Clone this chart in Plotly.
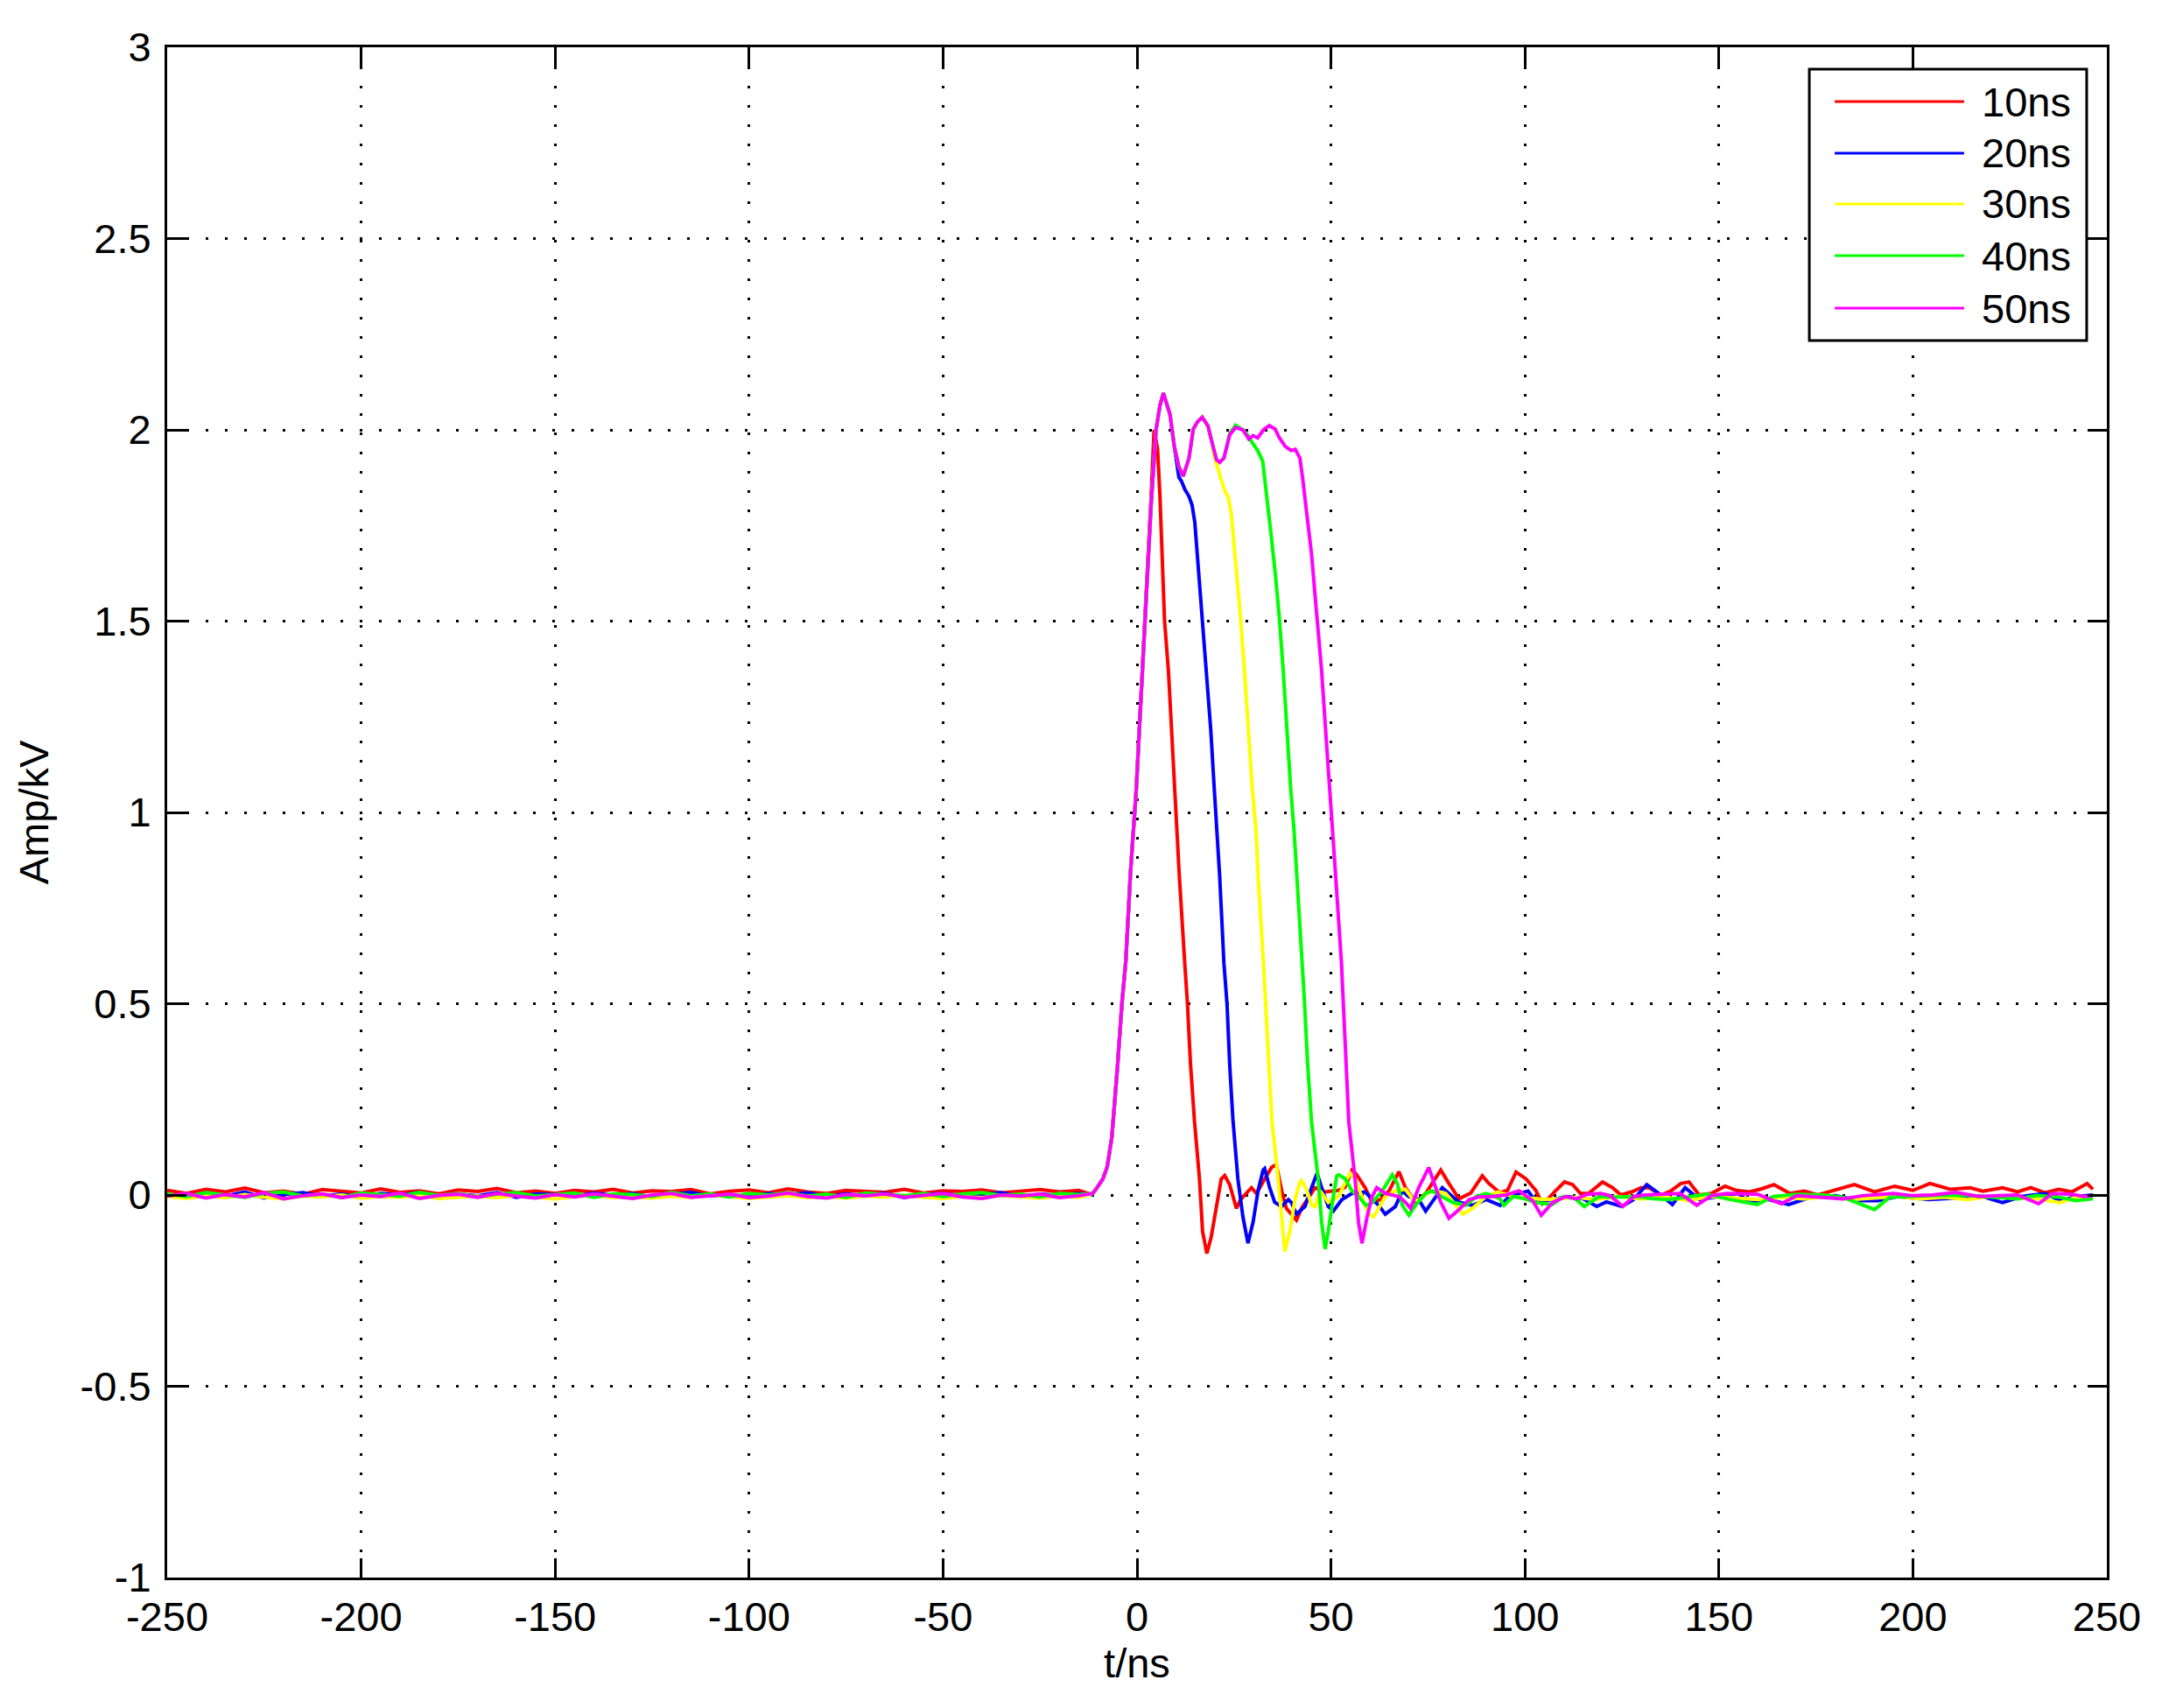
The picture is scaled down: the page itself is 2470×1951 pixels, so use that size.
import plotly.graph_objects as go

# ---- data (t in ns, amplitude in kV) ----
NAMES = ["10ns", "20ns", "30ns", "40ns", "50ns"]
COLORS = ["#FF0000", "#0000FF", "#FFFF00", "#00FF00", "#FF00FF"]

# pre-trigger baseline, shared time samples
BASE_T = [
    -250, -245, -240, -235, -230, -225, -220, -215,
    -210, -205, -200, -195, -190, -185, -180, -175,
    -170, -165, -160, -155, -150, -145, -140, -135,
    -130, -125, -120, -115, -110, -105, -100, -95,
    -90, -85, -80, -75, -70, -65, -60, -55,
    -50, -45, -40, -35, -30, -25, -20, -15,
]
BASE_10 = [
    0.012, 0.004, 0.015, 0.008, 0.018, 0.006, 0.010, 0.002,
    0.014, 0.009, 0.005, 0.016, 0.007, 0.011, 0.003, 0.013,
    0.009, 0.017, 0.006, 0.010, 0.004, 0.012, 0.008, 0.015,
    0.005, 0.011, 0.009, 0.014, 0.003, 0.010, 0.013, 0.006,
    0.016, 0.008, 0.004, 0.012, 0.010, 0.007, 0.015, 0.005,
    0.011, 0.009, 0.013, 0.006, 0.010, 0.014, 0.008, 0.012,
]
BASE_20 = [
    0.002, -0.006, 0.005, -0.003, 0.008, -0.008, 0.001, 0.006,
    -0.004, 0.003, -0.007, 0.004, 0.000, 0.007, -0.005, 0.002,
    -0.002, 0.006, -0.006, 0.003, 0.001, -0.004, 0.005, -0.001,
    0.004, -0.006, 0.002, 0.007, -0.003, 0.001, -0.005, 0.004,
    0.000, 0.006, -0.004, 0.003, -0.002, 0.005, -0.007, 0.002,
    0.004, -0.003, 0.001, 0.006, -0.005, 0.002, -0.001, 0.004,
]
BASE_30 = [
    -0.004, -0.009, -0.002, -0.007, 0.001, -0.006, -0.010, -0.003,
    -0.005, 0.000, -0.008, -0.004, -0.006, -0.001, -0.009, -0.005,
    -0.003, -0.007, -0.002, -0.006, -0.010, -0.004, -0.001, -0.007,
    -0.005, -0.008, -0.003, -0.006, 0.000, -0.004, -0.009, -0.005,
    -0.002, -0.007, -0.004, -0.008, -0.003, -0.005, -0.001, -0.006,
    -0.009, -0.004, -0.007, -0.002, -0.005, -0.008, -0.003, -0.006,
]
BASE_40 = [
    0.003, -0.004, 0.006, 0.000, -0.006, 0.004, 0.008, -0.002,
    0.002, -0.007, 0.005, 0.001, -0.003, 0.007, -0.001, 0.004,
    -0.005, 0.002, 0.006, -0.003, 0.000, 0.005, -0.006, 0.003,
    0.001, -0.004, 0.007, -0.002, 0.003, -0.005, 0.004, 0.000,
    0.006, -0.003, 0.002, -0.006, 0.005, 0.001, -0.002, 0.004,
    -0.004, 0.003, 0.006, -0.001, 0.002, -0.005, 0.004, 0.001,
]
BASE_50 = [
    -0.003, 0.004, -0.008, 0.001, -0.005, 0.006, -0.010, -0.002,
    0.003, -0.007, 0.000, -0.004, 0.005, -0.009, -0.001, 0.002,
    -0.006, 0.004, -0.003, -0.008, 0.001, -0.005, 0.003, -0.002,
    -0.009, 0.000, 0.004, -0.006, -0.001, 0.002, -0.007, -0.003,
    0.005, -0.004, -0.008, 0.001, -0.002, 0.003, -0.006, -0.001,
    0.004, -0.005, -0.009, 0.000, -0.003, 0.002, -0.007, -0.002,
]

# common leading edge
RISE_T = [-12.0, -11.4, -10.3, -8.8, -7.7, -6.5, -5.0, -3.9, -2.9, -1.7, -0.2, 1.0, 2.0]
RISE_V = [0.002, 0.004, 0.019, 0.042, 0.073, 0.150, 0.340, 0.500, 0.610, 0.840, 1.060, 1.290, 1.500]

# individual pulse tops, falling edges and ringing
T_10 = [
    3.6, 4.4, 5.3, 5.9, 6.3, 6.7, 7.1, 8.1, 8.9, 9.6, 10.4, 10.9, 12.3, 13.0, 13.8,
    14.8, 16.1, 16.9, 18.0, 19.1, 20.4, 21.7, 22.6, 23.9, 25.6, 26.7, 29.5, 30.8,
    32.9, 34.7, 35.9, 37.3, 38.5, 39.8, 41.1, 42.4, 44.2, 45.9, 48.5, 51.9, 53.6,
    55.4, 56.5, 58.8, 60.6, 62.8, 65.0, 67.5, 69.2, 71.8, 74.4, 77.0, 78.3, 80.4,
    83.0, 86.0, 89.0, 90.7, 93.5, 95.5, 97.7, 100.3, 102.8, 104.5, 106.0, 108.0,
    110.2, 112.3, 114.3, 116.4, 120.0, 122.6, 124.7, 127.5, 129.9, 132.0, 135.1,
    137.5, 140.2, 142.3, 144.9, 148.0, 151.6, 154.5, 157.9, 161.0, 164.2, 168.3,
    172.0, 175.5, 180.0, 184.9, 190.1, 195.3, 200.0, 204.4, 209.6, 214.8, 218.0,
    223.1, 227.0, 230.4, 234.0, 237.6, 241.0, 244.9, 246.4,
]
V_10 = [
    1.820, 2.000, 1.950, 1.830, 1.730, 1.610, 1.500, 1.370, 1.220, 1.060, 0.920,
    0.835, 0.606, 0.500, 0.340, 0.195, 0.042, -0.095, -0.153, -0.111, -0.035,
    0.042, 0.051, 0.027, -0.035, -0.012, 0.019, 0.004, 0.042, 0.072, 0.080, 0.011,
    -0.035, -0.050, -0.066, -0.035, -0.005, 0.019, 0.008, 0.012, 0.020, 0.065,
    0.055, 0.019, -0.019, -0.012, 0.011, 0.061, 0.019, -0.019, 0.004, 0.042,
    0.065, 0.030, -0.010, 0.005, 0.050, 0.030, 0.006, 0.012, 0.060, 0.042, 0.012,
    -0.023, -0.010, 0.012, 0.034, 0.027, 0.004, 0.004, 0.034, 0.019, 0.000,
    0.008, 0.019, 0.019, 0.000, 0.010, 0.030, 0.034, 0.000, 0.004, 0.023, 0.012,
    0.008, 0.016, 0.027, 0.004, 0.010, 0.000, 0.012, 0.027, 0.008, 0.023, 0.012,
    0.030, 0.015, 0.019, 0.010, 0.019, 0.008, 0.019, 0.006, 0.015, 0.008, 0.030,
    0.015,
]

T_20 = [
    3.6, 4.9, 5.9, 6.8, 8.5, 9.6, 10.4, 10.8, 11.5, 12.3, 13.4, 14.2, 14.9, 15.4,
    16.0, 16.8, 17.9, 19.0, 19.9, 20.7, 21.3, 22.4, 23.2, 23.9, 24.7, 26.0, 27.3,
    28.6, 29.9, 31.2, 32.5, 32.9, 34.2, 35.5, 37.3, 39.0, 39.8, 41.1, 43.3, 45.0,
    46.4, 47.6, 49.3, 50.6, 52.8, 55.4, 58.8, 62.3, 64.0, 66.6, 68.4, 70.0, 72.6,
    74.4, 76.5, 78.7, 80.4, 83.0, 86.5, 90.0, 93.6, 96.0, 100.8, 103.0, 107.0,
    111.0, 115.0, 118.5, 121.0, 125.0, 128.0, 131.4, 134.0, 138.0, 141.3, 145.0,
    150.0, 155.0, 157.9, 162.0, 168.0, 173.0, 180.0, 186.0, 191.0, 196.0, 204.0,
    212.0, 218.0, 223.1, 228.0, 234.0, 238.0, 242.0, 246.4,
]
V_20 = [
    1.800, 2.000, 2.063, 2.096, 2.040, 1.957, 1.910, 1.876, 1.865, 1.845, 1.826,
    1.803, 1.758, 1.690, 1.613, 1.520, 1.369, 1.217, 1.064, 0.927, 0.835, 0.606,
    0.500, 0.339, 0.200, 0.042, -0.057, -0.126, -0.072, 0.011, 0.065, 0.069,
    0.019, -0.019, -0.030, -0.012, -0.020, -0.050, -0.030, 0.019, 0.057, 0.019,
    -0.030, -0.042, -0.012, 0.004, 0.008, -0.027, -0.050, -0.030, 0.011, -0.004,
    -0.012, -0.042, -0.012, 0.019, 0.004, -0.019, -0.027, -0.012, -0.027, -0.004,
    0.010, -0.020, -0.012, -0.004, -0.010, -0.030, -0.018, -0.030, -0.012, 0.027,
    0.008, -0.025, 0.019, -0.012, -0.004, 0.004, -0.020, -0.010, -0.025, -0.008,
    -0.002, -0.015, -0.015, -0.004, -0.012, -0.008, -0.004, -0.020, -0.004,
    0.004, -0.015, -0.004, 0.000,
]

T_30 = [
    3.6, 4.9, 5.9, 6.8, 8.5, 9.6, 10.8, 11.9, 13.4, 14.5, 15.6, 16.8, 18.3, 19.4,
    19.8, 20.5, 21.3, 22.0, 22.8, 23.5, 24.3, 25.0, 25.8, 26.6, 27.7, 28.7, 29.7,
    30.7, 31.2, 32.6, 33.2, 33.9, 34.8, 36.4, 37.3, 38.1, 39.4, 40.7, 42.0, 42.4,
    43.7, 45.0, 45.9, 47.2, 49.3, 51.9, 54.1, 55.0, 56.2, 58.0, 59.7, 61.0, 62.3,
    64.0, 66.6, 69.2, 70.9, 72.6, 75.2, 77.0, 79.6, 82.2, 84.0, 86.5, 89.9, 93.0,
    97.0, 101.0, 105.0, 109.0, 113.0, 118.0, 124.0, 130.0, 136.0, 142.0, 148.0,
    154.0, 160.0, 166.0, 172.0, 178.0, 184.0, 190.0, 196.0, 202.0, 208.0, 214.0,
    220.0, 226.0, 232.0, 238.0, 242.0, 246.4,
]
V_30 = [
    1.800, 2.000, 2.063, 2.096, 2.040, 1.957, 1.903, 1.879, 1.926, 2.002, 2.021,
    2.033, 2.010, 1.964, 1.934, 1.910, 1.880, 1.860, 1.836, 1.826, 1.781, 1.705,
    1.628, 1.520, 1.369, 1.217, 1.064, 0.950, 0.835, 0.606, 0.500, 0.339, 0.190,
    0.040, -0.072, -0.148, -0.095, -0.012, 0.034, 0.038, 0.015, -0.027, -0.030,
    0.011, -0.019, -0.004, 0.042, 0.057, 0.042, -0.004, -0.050, -0.057, -0.035,
    -0.004, 0.011, 0.015, -0.008, -0.015, 0.008, 0.011, 0.004, -0.027, -0.050,
    -0.035, -0.004, 0.008, -0.004, -0.008, -0.012, -0.010, -0.006, -0.012,
    -0.004, -0.010, -0.006, -0.014, -0.004, -0.008, -0.012, -0.006, -0.010,
    -0.004, -0.012, -0.008, -0.004, -0.010, -0.006, -0.012, -0.004, -0.008,
    -0.010, -0.020, -0.006, -0.008,
]

T_40 = [
    3.6, 4.9, 5.9, 6.8, 8.5, 9.6, 10.8, 11.9, 13.4, 14.5, 15.6, 16.8, 18.3, 19.4,
    20.5, 21.3, 22.4, 23.9, 25.4, 27.3, 28.8, 29.6, 31.1, 32.4, 33.3, 34.1, 34.8,
    35.6, 36.6, 37.7, 38.6, 39.6, 40.5, 41.2, 42.7, 43.2, 44.0, 45.0, 46.7, 47.6,
    48.5, 49.3, 50.6, 51.5, 52.0, 53.7, 55.4, 57.1, 59.0, 60.6, 63.2, 65.0, 65.8,
    67.1, 68.4, 70.1, 71.8, 74.4, 76.1, 78.7, 81.3, 84.8, 87.3, 89.9, 93.4, 94.6,
    97.0, 100.0, 102.9, 107.0, 110.0, 113.0, 115.3, 119.0, 123.0, 129.0, 133.0,
    137.0, 143.0, 147.0, 152.0, 155.7, 159.9, 164.0, 170.0, 177.0, 182.0, 190.1,
    194.0, 199.0, 206.0, 214.0, 220.0, 227.0, 232.0, 238.0, 242.0, 246.4,
]
V_40 = [
    1.800, 2.000, 2.063, 2.096, 2.040, 1.957, 1.903, 1.879, 1.926, 2.002, 2.021,
    2.033, 2.010, 1.964, 1.922, 1.915, 1.926, 1.990, 2.012, 2.000, 1.983, 1.968,
    1.946, 1.918, 1.842, 1.781, 1.705, 1.628, 1.520, 1.369, 1.217, 1.064, 0.950,
    0.835, 0.606, 0.500, 0.339, 0.190, 0.042, -0.072, -0.141, -0.095, -0.004,
    0.050, 0.053, 0.042, 0.011, -0.004, -0.027, -0.020, 0.011, 0.042, 0.053,
    0.030, -0.027, -0.053, -0.027, 0.004, 0.011, -0.005, -0.019, -0.027, -0.005,
    0.004, -0.008, -0.027, -0.004, -0.010, -0.020, -0.025, -0.004, -0.010,
    -0.030, -0.004, -0.006, -0.004, -0.010, -0.012, -0.004, 0.002, -0.010,
    -0.017, -0.025, -0.004, 0.002, 0.000, -0.006, -0.038, -0.006, -0.004,
    -0.001, -0.001, -0.006, -0.010, -0.001, -0.006, -0.015, -0.010,
]

T_50 = [
    3.6, 4.9, 5.9, 6.8, 8.5, 9.6, 10.8, 11.9, 13.4, 14.5, 15.6, 16.8, 18.3, 19.4,
    20.5, 21.3, 22.4, 23.9, 25.4, 27.3, 28.8, 29.9, 31.1, 32.6, 34.1, 35.6, 36.7,
    38.2, 39.7, 40.8, 42.0, 42.7, 43.8, 45.0, 46.3, 47.6, 48.6, 49.7, 50.5, 51.2,
    52.7, 53.2, 54.0, 54.6, 56.2, 57.1, 58.0, 59.3, 60.6, 61.8, 64.0, 67.5, 69.2,
    70.5, 72.6, 75.2, 76.5, 78.3, 80.4, 82.6, 85.6, 88.2, 91.6, 95.1, 98.5, 102.0,
    104.2, 107.2, 110.6, 113.3, 116.0, 119.5, 122.0, 125.2, 128.0, 131.0, 135.0,
    140.0, 144.3, 148.0, 152.0, 160.0, 166.1, 170.0, 176.0, 182.0, 187.0, 195.0,
    200.0, 205.0, 211.1, 217.0, 222.0, 227.0, 232.4, 236.0, 241.0, 244.0, 246.4,
]
V_50 = [
    1.800, 2.000, 2.063, 2.096, 2.040, 1.957, 1.903, 1.879, 1.926, 2.002, 2.021,
    2.033, 2.010, 1.964, 1.922, 1.915, 1.926, 1.987, 2.006, 2.000, 1.976, 1.985,
    1.979, 2.000, 2.011, 2.002, 1.979, 1.957, 1.946, 1.949, 1.926, 1.873, 1.781,
    1.674, 1.520, 1.369, 1.217, 1.064, 0.950, 0.835, 0.606, 0.500, 0.339, 0.190,
    0.042, -0.072, -0.126, -0.057, -0.004, 0.019, 0.004, -0.004, -0.019, -0.035,
    0.019, 0.072, 0.034, -0.019, -0.061, -0.042, -0.012, -0.005, -0.004, 0.000,
    0.011, -0.015, -0.053, -0.019, -0.004, -0.010, 0.002, 0.004, -0.002, -0.030,
    -0.004, 0.000, 0.002, 0.004, -0.027, -0.002, 0.004, 0.002, -0.023, -0.002,
    -0.006, -0.010, -0.002, 0.004, -0.002, 0.000, 0.007, -0.004, -0.002, 0.000,
    -0.023, 0.004, 0.002, -0.004, -0.002,
]

X_TICKS = [-250, -200, -150, -100, -50, 0, 50, 100, 150, 200, 250]
Y_TICKS = [-1, -0.5, 0, 0.5, 1, 1.5, 2, 2.5, 3]

FONT = "Liberation Sans, Arial, sans-serif"
FS = 47

series = [
    (BASE_10, T_10, V_10),
    (BASE_20, T_20, V_20),
    (BASE_30, T_30, V_30),
    (BASE_40, T_40, V_40),
    (BASE_50, T_50, V_50),
]

fig = go.Figure()
for name, color, (base, t_tail, v_tail) in zip(NAMES, COLORS, series):
    fig.add_trace(go.Scatter(
        x=BASE_T + RISE_T + t_tail,
        y=base + RISE_V + v_tail,
        mode="lines",
        name=name,
        line=dict(color=color, width=4),
        showlegend=False,
    ))

# MATLAB style legend box with long line samples (paper coordinates)
LEG_X0, LEG_X1, LEG_Y0, LEG_Y1 = 0.8466, 0.9896, 0.8083, 0.9857
row_y = [0.9645, 0.9308, 0.8976, 0.8638, 0.8295]
shapes = [dict(type="rect", xref="paper", yref="paper", x0=LEG_X0, x1=LEG_X1,
               y0=LEG_Y0, y1=LEG_Y1, line=dict(color="black", width=3),
               fillcolor="white", layer="above")]
annotations = []
for name, color, yy in zip(NAMES, COLORS, row_y):
    shapes.append(dict(type="line", xref="paper", yref="paper", x0=0.8597, x1=0.9264,
                       y0=yy, y1=yy, line=dict(color=color, width=3), layer="above"))
    annotations.append(dict(xref="paper", yref="paper", x=0.9346, y=yy, text=name,
                            showarrow=False, xanchor="left", yanchor="middle",
                            font=dict(family=FONT, size=FS, color="black")))

axis_common = dict(
    showline=True, linecolor="black", linewidth=3, mirror="allticks",
    ticks="inside", ticklen=22, tickwidth=3, tickcolor="black",
    showgrid=True, gridcolor="black", gridwidth=2.5, griddash="3px,19px",
    zeroline=False, tickfont=dict(family=FONT, size=FS, color="black"),
)

# the page body adds an 8px offset, so the figure is 16px smaller than the window
fig.update_layout(
    width=2454, height=1935,
    margin=dict(l=183, r=55, t=46, b=141),
    plot_bgcolor="white", paper_bgcolor="white",
    font=dict(family=FONT, size=FS, color="black"),
    shapes=shapes, annotations=annotations,
)
fig.update_xaxes(range=[-250, 250], tickvals=X_TICKS, ticktext=[str(v) for v in X_TICKS],
                 title=dict(text="t/ns", font=dict(family=FONT, size=FS), standoff=10),
                 ticklabelstandoff=2, **axis_common)
fig.update_yaxes(range=[-1, 3], tickvals=Y_TICKS, ticktext=[f"{v:g}" for v in Y_TICKS],
                 title=dict(text="Amp/kV", font=dict(family=FONT, size=FS), standoff=22),
                 ticklabelstandoff=6, **axis_common)

fig.write_html("out.html")
